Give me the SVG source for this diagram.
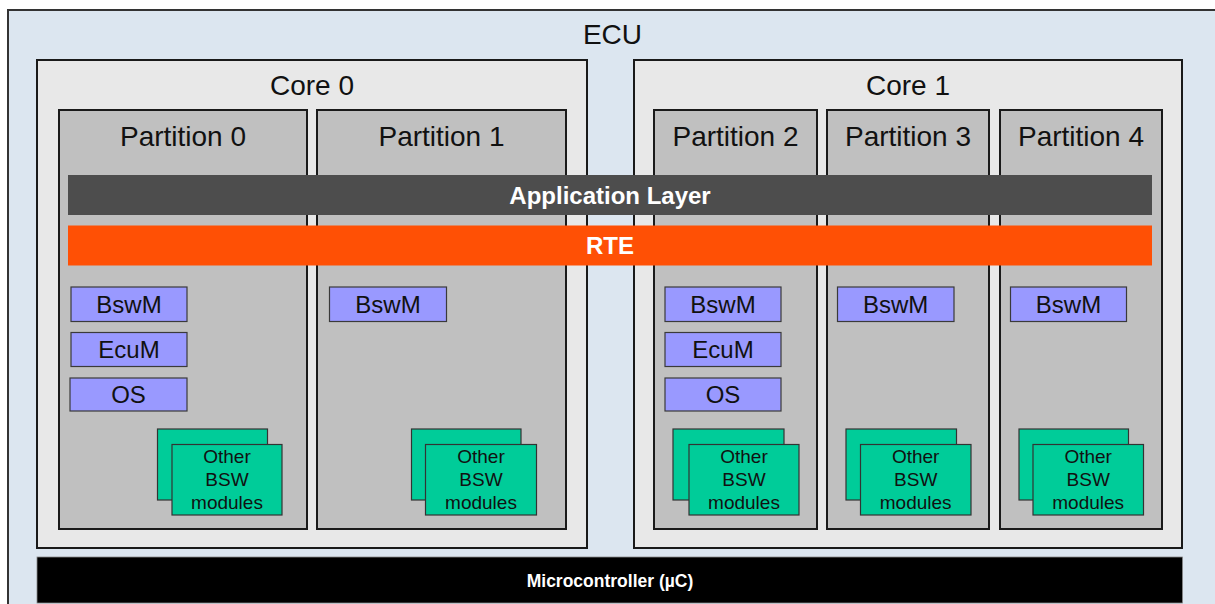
<svg xmlns="http://www.w3.org/2000/svg" width="1215" height="604" viewBox="0 0 1215 604">
<style>
text{font-family:"Liberation Sans",Arial,sans-serif;text-anchor:middle;fill:#111}
.ecu{fill:#dce6f0;stroke:#333;stroke-width:2}
.core{fill:#e8e8e8;stroke:#1a1a1a;stroke-width:2}
.part{fill:#c0c0c0;stroke:#1a1a1a;stroke-width:2}
.mod{fill:#9999ff;stroke:#3a3a3a;stroke-width:1.2}
.oth{fill:#00cc99;stroke:#333;stroke-width:1.2}
.t28{font-size:28px}
.t24{font-size:24px}
.t19{font-size:19px}
.wb{fill:#fff;font-weight:bold}
</style>
<g id="ecu"><rect class="ecu" x="8" y="10" width="1220" height="610"/><text class="t28" x="612.5" y="44">ECU</text></g>
<g id="core0"><rect class="core" x="37" y="60" width="550" height="488"/><text class="t28" x="312" y="95">Core 0</text></g>
<g id="core1"><rect class="core" x="634" y="60" width="548" height="488"/><text class="t28" x="908" y="95">Core 1</text></g>
<g id="partition0"><rect class="part" x="59" y="110" width="248" height="419"/><text class="t28" x="183" y="145.5">Partition 0</text></g>
<g id="partition1"><rect class="part" x="317" y="110" width="249" height="419"/><text class="t28" x="441.5" y="145.5">Partition 1</text></g>
<g id="partition2"><rect class="part" x="654" y="110" width="163" height="419"/><text class="t28" x="735.5" y="145.5">Partition 2</text></g>
<g id="partition3"><rect class="part" x="827" y="110" width="162" height="419"/><text class="t28" x="908" y="145.5">Partition 3</text></g>
<g id="partition4"><rect class="part" x="1000" y="110" width="162" height="419"/><text class="t28" x="1081" y="145.5">Partition 4</text></g>
<g id="application-layer"><rect x="68" y="175" width="1084" height="40" fill="#4d4d4d"/><text class="t24 wb" x="610" y="204">Application Layer</text></g>
<g id="rte"><rect x="68" y="225.5" width="1084" height="40" fill="#ff5005"/><text class="t24 wb" x="610" y="254">RTE</text></g>
<g id="p0-bswm"><rect class="mod" x="71" y="287" width="116" height="34.5"/><text class="t24" x="129" y="312.7">BswM</text></g>
<g id="p0-ecum"><rect class="mod" x="71" y="332.5" width="116" height="34"/><text class="t24" x="129" y="357.5">EcuM</text></g>
<g id="p0-os"><rect class="mod" x="70" y="378" width="117" height="33"/><text class="t24" x="128.5" y="402.7">OS</text></g>
<g id="p0-other"><rect class="oth" x="157.5" y="429" width="110" height="71"/><rect class="oth" x="172" y="444.5" width="110" height="70.5"/><text class="t19" x="227" y="462.7">Other</text><text class="t19" x="227" y="485.7">BSW</text><text class="t19" x="227" y="509">modules</text></g>
<g id="p1-bswm"><rect class="mod" x="329.5" y="287" width="117" height="34.5"/><text class="t24" x="388" y="312.7">BswM</text></g>
<g id="p1-other"><rect class="oth" x="411.5" y="429" width="109.5" height="71"/><rect class="oth" x="425.5" y="444.5" width="111" height="70.5"/><text class="t19" x="481" y="462.7">Other</text><text class="t19" x="481" y="485.7">BSW</text><text class="t19" x="481" y="509">modules</text></g>
<g id="p2-bswm"><rect class="mod" x="665" y="287" width="116" height="34.5"/><text class="t24" x="723" y="312.7">BswM</text></g>
<g id="p2-ecum"><rect class="mod" x="665" y="332.5" width="116" height="34"/><text class="t24" x="723" y="357.5">EcuM</text></g>
<g id="p2-os"><rect class="mod" x="665" y="378" width="116" height="33"/><text class="t24" x="723" y="402.7">OS</text></g>
<g id="p2-other"><rect class="oth" x="673" y="429" width="111" height="71"/><rect class="oth" x="689" y="444.5" width="110" height="70.5"/><text class="t19" x="744" y="462.7">Other</text><text class="t19" x="744" y="485.7">BSW</text><text class="t19" x="744" y="509">modules</text></g>
<g id="p3-bswm"><rect class="mod" x="837.5" y="287" width="116.5" height="34.5"/><text class="t24" x="895.7" y="312.7">BswM</text></g>
<g id="p3-other"><rect class="oth" x="846" y="429" width="110.5" height="71"/><rect class="oth" x="860.5" y="444.5" width="110.5" height="70.5"/><text class="t19" x="915.7" y="462.7">Other</text><text class="t19" x="915.7" y="485.7">BSW</text><text class="t19" x="915.7" y="509">modules</text></g>
<g id="p4-bswm"><rect class="mod" x="1010.5" y="287" width="116" height="34.5"/><text class="t24" x="1068.5" y="312.7">BswM</text></g>
<g id="p4-other"><rect class="oth" x="1019" y="429" width="109.5" height="71"/><rect class="oth" x="1033" y="444.5" width="110.5" height="70.5"/><text class="t19" x="1088.2" y="462.7">Other</text><text class="t19" x="1088.2" y="485.7">BSW</text><text class="t19" x="1088.2" y="509">modules</text></g>
<g id="microcontroller"><rect x="37" y="557" width="1145.5" height="46" fill="#000" stroke="#888" stroke-width="0.8"/><text class="wb" x="610" y="586.5" font-size="17.5">Microcontroller (µC)</text></g>
<g id="connectors"></g>
</svg>
